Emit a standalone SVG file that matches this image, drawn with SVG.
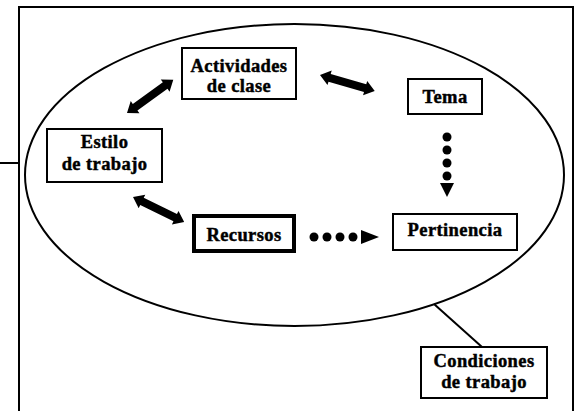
<svg xmlns="http://www.w3.org/2000/svg" width="579" height="411" viewBox="0 0 579 411">
<style>
.box{fill:#fff;stroke:#000;stroke-width:2}
.thick{fill:#fff;stroke:#000;stroke-width:4}
.t{font-family:"Liberation Serif","Times New Roman",serif;font-weight:bold;font-size:18.5px;text-anchor:middle;fill:#000;stroke:#000;stroke-width:0.45;letter-spacing:0.4px}
.ln{fill:none;stroke:#000;stroke-width:2}
</style>
<defs>
<path id="dbl" d="M0,0 L10,-7.5 L10,-4 L47,-4 L47,-7.5 L57,0 L47,7.5 L47,4 L10,4 L10,7.5 Z" fill="#000"/>
</defs>
<rect x="0" y="0" width="579" height="411" fill="#fff"/>
<rect x="19" y="7" width="554" height="410" class="ln" stroke-width="2.5"/>
<line x1="0" y1="163" x2="19" y2="163" class="ln"/>
<ellipse cx="294.5" cy="175" rx="269.5" ry="151" class="ln"/>
<g id="connectors">
<line x1="434" y1="304" x2="482" y2="347" class="ln"/>
<use href="#dbl" transform="translate(127,113) rotate(-35.7)"/>
<use href="#dbl" transform="translate(320,75) rotate(16.2)"/>
<use href="#dbl" transform="translate(133,197) rotate(26.1)"/>
<g fill="#000">
<circle cx="447" cy="137" r="4.5"/><circle cx="447" cy="150" r="4.5"/><circle cx="447" cy="163" r="4.5"/><circle cx="447" cy="176" r="4.5"/>
<polygon points="440,183 454,183 447,197"/>
<circle cx="314" cy="237" r="4.5"/><circle cx="327" cy="237" r="4.5"/><circle cx="340" cy="237" r="4.5"/><circle cx="353" cy="237" r="4.5"/>
<polygon points="361,230 361,244 379,237"/>
</g>
</g>
<g id="actividades">
<rect x="182" y="48" width="114" height="51" class="box"/>
<text class="t" x="239" y="72">Actividades</text>
<text class="t" x="239" y="92">de clase</text>
</g>
<g id="tema">
<rect x="408" y="79" width="74" height="35" class="box"/>
<text class="t" x="445" y="103">Tema</text>
</g>
<g id="estilo">
<rect x="47" y="129" width="115" height="53" class="box"/>
<text class="t" x="104.5" y="148">Estilo</text>
<text class="t" x="104.5" y="170">de trabajo</text>
</g>
<g id="recursos">
<rect x="194" y="216" width="100" height="35" class="thick"/>
<text class="t" x="244" y="241">Recursos</text>
</g>
<g id="pertinencia">
<rect x="393" y="214" width="124" height="36" class="box"/>
<text class="t" x="455" y="236">Pertinencia</text>
</g>
<g id="condiciones">
<rect x="421" y="347" width="126" height="51" class="box"/>
<text class="t" x="484" y="367">Condiciones</text>
<text class="t" x="484" y="388">de trabajo</text>
</g>
</svg>
